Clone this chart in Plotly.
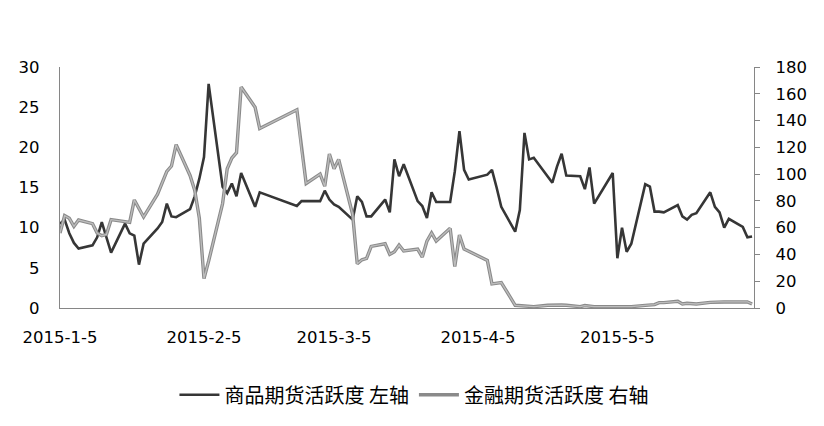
import plotly.graph_objects as go

dates = [
    "2015-01-05","2015-01-06","2015-01-07","2015-01-08","2015-01-09",
    "2015-01-12","2015-01-13","2015-01-14","2015-01-15","2015-01-16",
    "2015-01-19","2015-01-20","2015-01-21","2015-01-22","2015-01-23",
    "2015-01-26","2015-01-27","2015-01-28","2015-01-29","2015-01-30",
    "2015-02-02","2015-02-03","2015-02-04","2015-02-05","2015-02-06",
    "2015-02-09","2015-02-10","2015-02-11","2015-02-12","2015-02-13",
    "2015-02-16","2015-02-17",
    "2015-02-25","2015-02-26","2015-02-27",
    "2015-03-02","2015-03-03","2015-03-04","2015-03-05","2015-03-06",
    "2015-03-09","2015-03-10","2015-03-11","2015-03-12","2015-03-13",
    "2015-03-16","2015-03-17","2015-03-18","2015-03-19","2015-03-20",
    "2015-03-23","2015-03-24","2015-03-25","2015-03-26","2015-03-27",
    "2015-03-30","2015-03-31","2015-04-01","2015-04-02","2015-04-03",
    "2015-04-07","2015-04-08","2015-04-09","2015-04-10",
    "2015-04-13","2015-04-14","2015-04-15","2015-04-16","2015-04-17",
    "2015-04-20","2015-04-21","2015-04-22","2015-04-23","2015-04-24",
    "2015-04-27","2015-04-28","2015-04-29","2015-04-30",
    "2015-05-04","2015-05-05","2015-05-06","2015-05-07","2015-05-08",
    "2015-05-11","2015-05-12","2015-05-13","2015-05-14","2015-05-15",
    "2015-05-18","2015-05-19","2015-05-20","2015-05-21","2015-05-22",
    "2015-05-25","2015-05-26","2015-05-27","2015-05-28","2015-05-29",
    "2015-06-01","2015-06-02","2015-06-03",
]

commodity = [
    10.5, 11.0, 9.3, 8.1, 7.4,
    7.8, 8.8, 10.7, 8.8, 6.9,
    10.5, 9.3, 9.0, 5.4, 8.0,
    9.9, 10.7, 13.0, 11.4, 11.3,
    12.3, 13.9, 16.1, 18.8, 27.9,
    15.1, 14.3, 15.5, 13.9, 16.8,
    12.6, 14.4,
    12.7, 13.3, 13.3,
    13.3, 14.6, 13.5, 12.9, 12.6,
    11.0, 13.9, 13.2, 11.4, 11.4,
    13.5, 11.9, 18.5, 16.4, 17.9,
    13.3, 12.7, 11.2, 14.4, 13.2,
    13.2, 17.0, 22.0, 17.2, 16.0,
    16.6, 17.2, 15.0, 12.6,
    9.5, 12.2, 21.8, 18.5, 18.7,
    16.4, 15.6, 17.6, 19.2, 16.5,
    16.4, 14.8, 17.5, 13.0,
    16.8, 6.2, 10.0, 7.0, 8.0,
    15.4, 15.1, 12.0, 12.0, 11.9,
    12.8, 11.4, 11.0, 11.6, 11.8,
    14.4, 12.6, 11.9, 10.0, 11.1,
    10.1, 8.8, 8.9,
]

financial = [
    56, 69, 67, 61, 65.7,
    63, 56, 54, 55, 66,
    64.5, 64, 80.7, 74, 68,
    85, 93, 102, 106, 122,
    99, 88, 67, 22, 35,
    78, 104, 112, 116, 165,
    150, 134,
    148, 118, 93,
    100, 91, 115, 104, 111,
    70, 33, 36, 37, 46,
    48, 40, 42, 47, 42.6,
    44, 38, 50, 56, 50,
    59.5, 31, 54.5, 44, 42.4,
    35.5, 18, 18.5, 19,
    2.0, 1.8, 1.5, 1.2, 1.0,
    2.0, 2.2, 2.0, 2.2, 2.0,
    1.0, 1.8, 1.5, 1.0,
    1.0, 1.0, 1.0, 1.0, 1.0,
    2.0, 2.2, 2.5, 4.0, 4.0,
    5.0, 3.0, 3.5, 3.5, 3.0,
    4.2, 4.5, 4.5, 4.5, 4.5,
    4.5, 4.5, 3.0,
]

tick_dates = ["2015-01-05", "2015-02-05", "2015-03-05", "2015-04-05", "2015-05-05"]
tick_labels = ["2015-1-5", "2015-2-5", "2015-3-5", "2015-4-5", "2015-5-5"]

name_commodity = "商品期货活跃度 左轴"
name_financial = "金融期货活跃度 右轴"

fig = go.Figure()
fig.add_trace(go.Scatter(
    x=dates, y=commodity, mode="lines", name=name_commodity,
    line=dict(color="#363636", width=2.6), yaxis="y",
))
fig.add_trace(go.Scatter(
    x=dates, y=financial, mode="lines", name=name_financial,
    line=dict(color="#8a8a8a", width=3.4), yaxis="y2",
))
fig.add_trace(go.Scatter(
    x=dates, y=financial, mode="lines", showlegend=False, hoverinfo="skip",
    line=dict(color="#bdbdbd", width=1.3), yaxis="y2",
))

axis_font = dict(family="DejaVu Sans", size=16.5, color="#000000")
axis_line = "#868686"

# page body has an 8px margin, so the figure is sized/positioned to compensate
fig.update_layout(
    width=816, height=418,
    margin=dict(l=52, r=70, t=59, b=118, autoexpand=False),
    paper_bgcolor="white", plot_bgcolor="white",
    showlegend=True,
    legend=dict(
        orientation="h", x=0.51, xanchor="center", y=-0.36, yanchor="middle",
        font=dict(family="Noto Sans CJK SC", size=20, color="#000000"),
        itemwidth=40, tracegroupgap=0, traceorder="normal",
    ),
    xaxis=dict(
        type="date", automargin=False,
        range=["2015-01-05", "2015-06-03 10:00"],
        tickvals=tick_dates, ticktext=tick_labels,
        showgrid=False, zeroline=False,
        showline=True, linecolor=axis_line, linewidth=1.3,
        ticks="", tickfont=axis_font, ticklabelstandoff=14,
    ),
    yaxis=dict(
        range=[0, 30], dtick=5, tick0=0, automargin=False,
        showgrid=False, zeroline=False,
        showline=True, linecolor=axis_line, linewidth=1.3,
        ticks="", tickfont=axis_font, ticklabelstandoff=16,
    ),
    yaxis2=dict(
        range=[0, 180], dtick=20, tick0=0, automargin=False,
        overlaying="y", side="right",
        showgrid=False, zeroline=False,
        showline=True, linecolor=axis_line, linewidth=1.3,
        ticks="outside", ticklen=5, tickcolor=axis_line, tickwidth=1.3,
        tickfont=axis_font, ticklabelstandoff=12,
    ),
)

fig.write_html("out.html")
